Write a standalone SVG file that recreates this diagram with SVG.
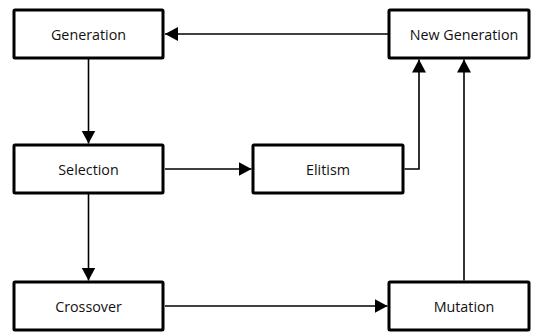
<svg xmlns="http://www.w3.org/2000/svg" width="534" height="333" viewBox="0 0 534 333">
<style>
.box{fill:#fff;stroke:#000;stroke-width:3;stroke-linejoin:round}
.lbl{font-family:"Open Sans","Liberation Sans",sans-serif;font-size:14.3px;fill:#111;text-anchor:middle;dominant-baseline:central}
.con{fill:none;stroke:#000;stroke-width:1.6}
</style>
<defs>
<marker id="ah" markerUnits="userSpaceOnUse" markerWidth="14" markerHeight="15" refX="13" refY="7" orient="auto" viewBox="0 0 14 14">
<path d="M0,0 L13,7 L0,14 z" fill="#000"/>
</marker>
</defs>
<g id="connectors">
<path class="con" d="M389,34 L165,34" marker-end="url(#ah)"/>
<path class="con" d="M88.5,59 L88.5,143.5" marker-end="url(#ah)"/>
<path class="con" d="M165,169 L251.5,169" marker-end="url(#ah)"/>
<path class="con" d="M88.5,194 L88.5,280.5" marker-end="url(#ah)"/>
<path class="con" d="M165,306 L387.5,306" marker-end="url(#ah)"/>
<path class="con" d="M404.5,169 L419,169 L419,59.5" marker-end="url(#ah)"/>
<path class="con" d="M464,280.5 L464,59.5" marker-end="url(#ah)"/>
</g>
<g id="generation"><rect class="box" x="14" y="10" width="149" height="48" rx="1"/><text class="lbl" x="88.5" y="34">Generation</text></g>
<g id="new-generation"><rect class="box" x="389" y="10" width="140" height="48" rx="1"/><text class="lbl" x="464" y="34">New Generation</text></g>
<g id="selection"><rect class="box" x="14" y="145" width="149" height="48" rx="1"/><text class="lbl" x="88.5" y="169">Selection</text></g>
<g id="elitism"><rect class="box" x="253" y="145" width="150" height="48" rx="1"/><text class="lbl" x="328" y="169">Elitism</text></g>
<g id="crossover"><rect class="box" x="14" y="282" width="149" height="48" rx="1"/><text class="lbl" x="88.5" y="306">Crossover</text></g>
<g id="mutation"><rect class="box" x="389" y="282" width="140" height="48" rx="1"/><text class="lbl" x="464" y="306">Mutation</text></g>
</svg>
